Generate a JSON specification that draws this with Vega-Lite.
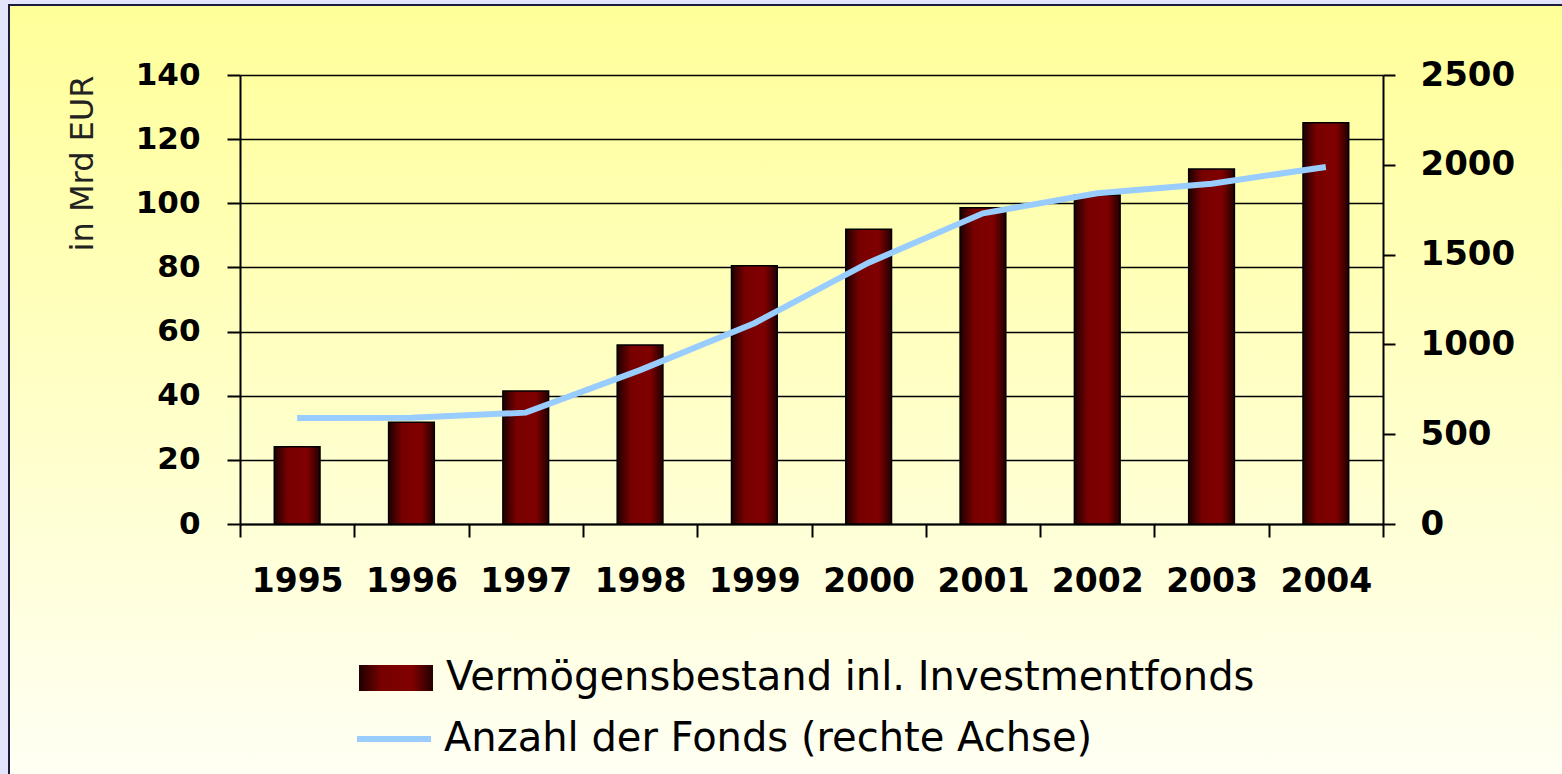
{
  "$schema": "https://vega.github.io/schema/vega-lite/v6.json",
  "autosize": {"type": "none"},
  "width": 1556,
  "height": 772,
  "padding": {"left": 9, "top": 5, "right": 0, "bottom": 0},
  "background": "#E4E4FC",
  "config": {
    "view": {
      "fill": {"gradient": "linear", "x1": 0, "y1": 0, "x2": 0, "y2": 1,
        "stops": [{"offset": 0, "color": "#FFFF99"}, {"offset": 0.5, "color": "#FFFFC6"}, {"offset": 1, "color": "#FFFFF4"}]},
      "stroke": "#1c1c3c",
      "strokeWidth": 2
    },
    "axis": {"domainColor": "black", "tickColor": "black", "labelColor": "black", "domainWidth": 2, "tickWidth": 2}
  },
  "data": {
    "values": [
      {"year": "1995", "bestand": 24.1, "fonds": 590},
      {"year": "1996", "bestand": 31.7, "fonds": 592},
      {"year": "1997", "bestand": 41.5, "fonds": 620},
      {"year": "1998", "bestand": 55.8, "fonds": 857},
      {"year": "1999", "bestand": 80.5, "fonds": 1118},
      {"year": "2000", "bestand": 91.9, "fonds": 1455},
      {"year": "2001", "bestand": 98.6, "fonds": 1730},
      {"year": "2002", "bestand": 102.6, "fonds": 1842},
      {"year": "2003", "bestand": 110.7, "fonds": 1895},
      {"year": "2004", "bestand": 125.1, "fonds": 1988}
    ]
  },
  "encoding": {
    "x": {
      "field": "year", "type": "ordinal",
      "scale": {"range": [231, 1374], "paddingInner": 0, "paddingOuter": 0},
      "axis": {
        "orient": "bottom", "offset": -253, "title": null, "labelAngle": 0,
        "labelFont": "DejaVu Sans", "labelFontWeight": "bold", "labelFontSize": 33,
        "labelPadding": 28, "tickSize": 13, "tickBand": "extent", "grid": false
      }
    }
  },
  "layer": [
    {
      "mark": {"type": "bar", "stroke": "black", "strokeWidth": 1.5, "width": {"band": 0.4},
        "fill": {"gradient": "linear", "x1": 0, "y1": 0, "x2": 1, "y2": 0,
          "stops": [{"offset": 0, "color": "#1e0000"}, {"offset": 0.3, "color": "#780000"}, {"offset": 0.72, "color": "#800000"}, {"offset": 1, "color": "#220000"}]}},
      "encoding": {
        "y": {
          "field": "bestand", "type": "quantitative",
          "scale": {"domain": [0, 140], "range": [519, 70], "nice": false},
          "axis": {
            "orient": "left", "offset": -231, "values": [0, 20, 40, 60, 80, 100, 120, 140],
            "grid": true, "gridColor": "black", "gridWidth": 1.5,
            "tickSize": 13, "labelFont": "DejaVu Sans", "labelFontWeight": "bold", "labelFontSize": 31,
            "labelPadding": 27, "title": "in Mrd EUR", "titleFont": "DejaVu Sans", "titleFontWeight": "normal",
            "titleFontSize": 32, "titleColor": "#222222", "titleAnchor": "end", "titlePadding": 36
          }
        },
        "opacity": {
          "datum": "Vermögensbestand inl. Investmentfonds", "type": "nominal",
          "scale": {"range": [1]},
          "legend": {
            "orient": "none", "legendX": 349, "legendY": 635, "title": null, "padding": 0,
            "symbolType": "M-1,-0.35L1,-0.35L1,0.35L-1,0.35Z", "symbolSize": 5476,
            "symbolFillColor": {"gradient": "linear", "x1": 0, "y1": 0, "x2": 1, "y2": 0,
              "stops": [{"offset": 0, "color": "#1e0000"}, {"offset": 0.3, "color": "#780000"}, {"offset": 0.72, "color": "#800000"}, {"offset": 1, "color": "#220000"}]},
            "symbolStrokeColor": "black", "symbolStrokeWidth": 1.5,
            "labelFont": "DejaVu Sans", "labelFontSize": 40, "labelOffset": 12, "labelColor": "black", "labelLimit": 1200,
            "encode": {"symbols": {"update": {"stroke": {"value": "black"}, "strokeWidth": {"value": 1.5}}}}
          }
        }
      }
    },
    {
      "mark": {"type": "line", "strokeWidth": 6},
      "encoding": {
        "y": {
          "field": "fonds", "type": "quantitative",
          "scale": {"domain": [0, 2500], "range": [519, 70], "nice": false},
          "axis": {
            "orient": "right", "offset": -182, "values": [0, 500, 1000, 1500, 2000, 2500], "format": "d",
            "grid": false, "tickSize": 12, "labelFont": "DejaVu Sans", "labelFontWeight": "bold", "labelFontSize": 34,
            "labelPadding": 25, "title": null
          }
        },
        "stroke": {
          "datum": "Anzahl der Fonds (rechte Achse)", "type": "nominal",
          "scale": {"range": ["#99CCFF"]},
          "legend": {
            "orient": "none", "legendX": 345, "legendY": 694, "title": null, "padding": 0,
            "symbolType": "stroke", "symbolSize": 5476, "symbolStrokeWidth": 6,
            "labelFont": "DejaVu Sans", "labelFontSize": 40, "labelOffset": 10, "labelColor": "black", "labelLimit": 1200
          }
        }
      }
    }
  ],
  "resolve": {"scale": {"y": "independent", "stroke": "independent"}}
}
